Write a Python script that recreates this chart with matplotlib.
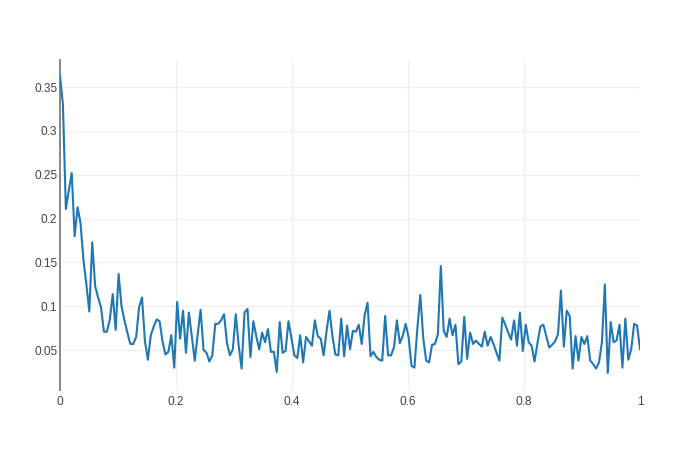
import numpy as np
import matplotlib
matplotlib.use("Agg")
import matplotlib.pyplot as plt

# values, evenly spaced from x=0 to x=1
y_values = [
    0.363, 0.330, 0.211, 0.232, 0.252, 0.180, 0.213, 0.195, 0.153, 0.125,
    0.094, 0.173, 0.123, 0.110, 0.099, 0.071, 0.071, 0.085, 0.114, 0.073,
    0.137, 0.100, 0.084, 0.070, 0.057, 0.057, 0.065, 0.099, 0.110, 0.060,
    0.039, 0.067, 0.077, 0.085, 0.083, 0.060, 0.045, 0.048, 0.067, 0.030,
    0.105, 0.063, 0.095, 0.047, 0.093, 0.065, 0.038, 0.068, 0.096, 0.050,
    0.047, 0.037, 0.044, 0.080, 0.080, 0.084, 0.091, 0.058, 0.044, 0.051,
    0.091, 0.055, 0.029, 0.093, 0.097, 0.042, 0.083, 0.066, 0.051, 0.070,
    0.059, 0.074, 0.048, 0.048, 0.025, 0.082, 0.047, 0.049, 0.083, 0.064,
    0.044, 0.041, 0.067, 0.036, 0.065, 0.060, 0.055, 0.084, 0.066, 0.063,
    0.044, 0.072, 0.095, 0.066, 0.045, 0.044, 0.086, 0.043, 0.078, 0.051,
    0.072, 0.071, 0.079, 0.057, 0.090, 0.104, 0.043, 0.048, 0.042, 0.039,
    0.038, 0.089, 0.044, 0.044, 0.053, 0.084, 0.058, 0.066, 0.080, 0.065,
    0.032, 0.030, 0.075, 0.113, 0.064, 0.038, 0.036, 0.056, 0.057, 0.068,
    0.146, 0.072, 0.065, 0.086, 0.067, 0.079, 0.034, 0.037, 0.088, 0.040,
    0.070, 0.057, 0.061, 0.057, 0.054, 0.071, 0.055, 0.065, 0.057, 0.047,
    0.038, 0.087, 0.079, 0.070, 0.062, 0.084, 0.055, 0.093, 0.049, 0.079,
    0.059, 0.055, 0.037, 0.058, 0.077, 0.079, 0.066, 0.053, 0.056, 0.060,
    0.068, 0.118, 0.054, 0.095, 0.089, 0.029, 0.066, 0.038, 0.065, 0.057,
    0.066, 0.038, 0.034, 0.029, 0.036, 0.059, 0.125, 0.024, 0.082, 0.059,
    0.061, 0.079, 0.030, 0.086, 0.039, 0.051, 0.080, 0.078, 0.051,
]
x_values = np.linspace(0, 1, len(y_values))

x_ticks = [0, 0.2, 0.4, 0.6, 0.8, 1]
x_labels = ["0", "0.2", "0.4", "0.6", "0.8", "1"]
y_ticks = [0.05, 0.1, 0.15, 0.2, 0.25, 0.3, 0.35]
y_labels = ["0.05", "0.1", "0.15", "0.2", "0.25", "0.3", "0.35"]

plt.rcParams["font.family"] = ["Liberation Sans", "DejaVu Sans"]

fig = plt.figure(figsize=(7, 4.5), dpi=100)
ax = fig.add_axes([60 / 700, 60 / 450, 580 / 700, 330 / 450])

ax.plot(x_values, y_values, color="#1f77b4", linewidth=1.5, zorder=3)

ax.set_xlim(0, 1)
ax.set_ylim(0.0045, 0.381)

ax.set_xticks(x_ticks)
ax.set_xticklabels(x_labels)
ax.set_yticks(y_ticks)
ax.set_yticklabels(y_labels)

ax.grid(True, color="#eeeeee", linewidth=0.8, zorder=0)
ax.tick_params(axis="both", length=0, labelsize=8.6, labelcolor="#444444")
ax.tick_params(axis="x", pad=4)
ax.tick_params(axis="y", pad=2)

for side in ["top", "right", "bottom", "left"]:
    ax.spines[side].set_visible(False)

# zero line at x = 0
ax.axvline(0, color="#888888", linewidth=1.4, zorder=2, clip_on=False)

fig.savefig("out.png", dpi=100)
